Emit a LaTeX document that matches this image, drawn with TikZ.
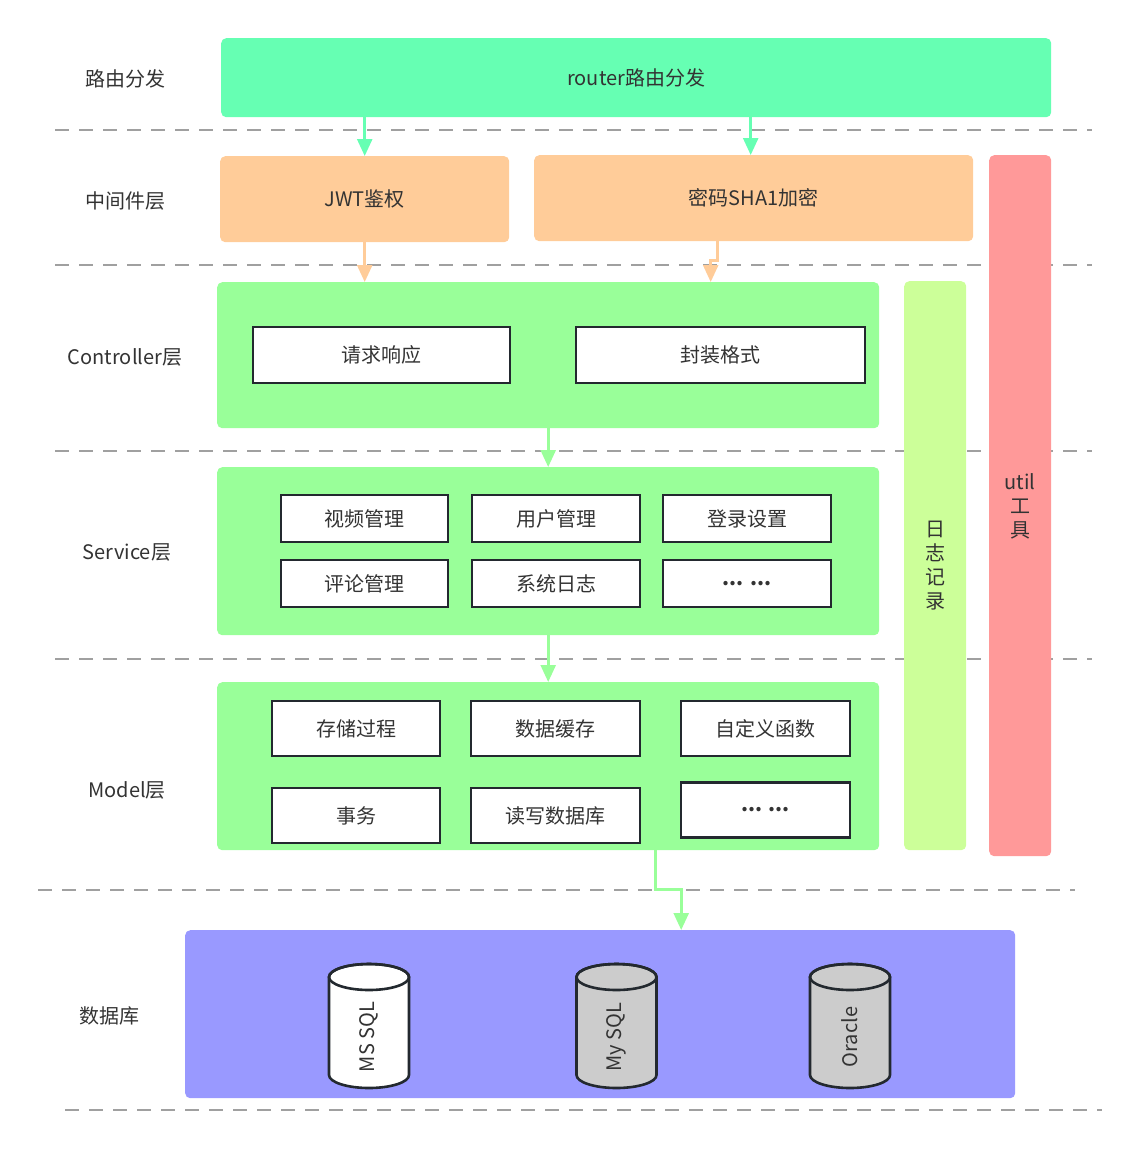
\documentclass[tikz,border=0pt]{standalone}
\usepackage{fontspec}
\setmainfont{Noto Sans CJK SC}
\usepackage{tikz}
\usetikzlibrary{arrows.meta}

\definecolor{routercol}{HTML}{66FFB3}
\definecolor{midcol}{HTML}{FFCC99}
\definecolor{ctrlcol}{HTML}{99FF99}
\definecolor{logcol}{HTML}{CCFF99}
\definecolor{utilcol}{HTML}{FF9999}
\definecolor{dbcol}{HTML}{9999FF}
\definecolor{cylgray}{HTML}{CCCCCC}
\definecolor{boxline}{HTML}{23292F}
\definecolor{dashcol}{HTML}{A0A0A0}
\definecolor{txtcol}{HTML}{333333}

\begin{document}
\begin{tikzpicture}[x=1pt,y=-1pt,
    every node/.style={text=txtcol,font=\fontsize{20}{24}\selectfont,inner sep=0pt},
    layer/.style={rounded corners=5pt,anchor=north west},
    item/.style={draw=boxline,line width=2.6pt,fill=white},
    sep/.style={dashcol,line width=1.6pt,dash pattern=on 14pt off 10pt},
    arr/.style={line width=2.6pt,-{Triangle[length=17pt,width=15pt]}}]
      \useasboundingbox (0,0) rectangle (1139,1164);
      % separators
      \draw[sep] (55,130)--(1092,130);
      \draw[sep] (55,265)--(1092,265);
      \draw[sep] (55,451)--(1092,451);
      \draw[sep] (55,659)--(1092,659);
      \draw[sep] (38,890)--(1075,890);
      \draw[sep] (65,1110)--(1102,1110);
      % layer names
      \node (lblroute) at (125,79) {路由分发};
      \node (lblmid) at (125,201) {中间件层};
      \node (lblctrl) at (125,357) {Controller层};
      \node (lblsvc) at (127,552) {Service层};
      \node (lblmodel) at (127,790) {Model层};
      \node (lbldb) at (109,1016) {数据库};
      % layers
      \node[layer,fill=routercol,minimum width=830,minimum height=79] (router) at (221,38) {router路由分发};
      \node[layer,fill=midcol,minimum width=289,minimum height=86] (jwt) at (220,156) {JWT鉴权};
      \node[layer,fill=midcol,minimum width=439,minimum height=86] (sha) at (534,155) {密码SHA1加密};
      \node[layer,fill=utilcol,minimum width=62,minimum height=701] (util) at (989,155) {};
      \node[align=center] (utiltxt) at (1020,506) {util\\工\\具};
      \node[layer,fill=logcol,minimum width=62,minimum height=569] (log) at (904,281) {};
      \node[align=center] (logtxt) at (935,566) {日\\志\\记\\录};
      \node[layer,fill=ctrlcol,minimum width=662,minimum height=146] (ctrl) at (217,282) {};
      \node[layer,fill=ctrlcol,minimum width=662,minimum height=168] (svc) at (217,467) {};
      \node[layer,fill=ctrlcol,minimum width=662,minimum height=168] (model) at (217,682) {};
      \node[layer,fill=dbcol,minimum width=830,minimum height=168] (db) at (185,930) {};
      % controller
      \node[item,minimum width=257,minimum height=56] (req) at (381.5,355) {请求响应};
      \node[item,minimum width=289,minimum height=56] (fmt) at (720.5,355) {封装格式};
      % service
      \node[item,minimum width=167,minimum height=47] (video) at (364.5,518.5) {视频管理};
      \node[item,minimum width=168,minimum height=47] (user) at (556,518.5) {用户管理};
      \node[item,minimum width=168,minimum height=47] (login) at (747,518.5) {登录设置};
      \node[item,minimum width=167,minimum height=47] (comment) at (364.5,583.5) {评论管理};
      \node[item,minimum width=168,minimum height=47] (syslog) at (556,583.5) {系统日志};
      \node[item,minimum width=168,minimum height=47] (svcmore) at (747,583.5) {\textbf{... ...}};
      % model
      \node[item,minimum width=168,minimum height=55] (proc) at (356,728.5) {存储过程};
      \node[item,minimum width=169,minimum height=55] (cache) at (555.5,728.5) {数据缓存};
      \node[item,minimum width=169,minimum height=55] (func) at (765.5,728.5) {自定义函数};
      \node[item,minimum width=168,minimum height=55] (trans) at (356,815.5) {事务};
      \node[item,minimum width=169,minimum height=55] (rw) at (555.5,815.5) {读写数据库};
      \node[item,minimum width=169,minimum height=55] (modelmore) at (765.5,810) {\textbf{... ...}};
      % databases
      \foreach \cx/\fc/\lbl [count=\i] in {369/white/MS SQL,616.5/cylgray/My SQL,850/cylgray/Oracle}{
        \draw[boxline,line width=2.6pt,fill=\fc] (\cx-40,977) -- (\cx-40,1075)
          arc[start angle=180,end angle=360,x radius=40pt,y radius=13pt] -- (\cx+40,977)
          arc[start angle=0,end angle=180,x radius=40pt,y radius=13pt] -- cycle;
        \draw[boxline,line width=2.6pt] (\cx,977) ellipse[x radius=40pt,y radius=13pt];
        \node[rotate=90] (cyl\i) at (\cx,1037) {\lbl};
      }
      % arrows
      \draw[arr,routercol] (jwt.north |- router.south) -- (jwt.north);
      \draw[arr,routercol] ([xshift=-3pt]sha.north |- router.south) -- ([xshift=-3pt]sha.north);
      \draw[arr,midcol] (jwt.south) -- (jwt.south |- ctrl.north);
      \draw[arr,midcol] ([xshift=-36pt]sha.south) -- ++(0,19) -| ([xshift=-43pt]sha.south |- ctrl.north);
      \draw[arr,ctrlcol] (ctrl.south) -- (svc.north);
      \draw[arr,ctrlcol] (svc.south) -- (model.north);
      \draw[arr,ctrlcol] ([xshift=107pt]model.south) -- ++(0,39) -| ([xshift=81pt]db.north);
    \end{tikzpicture}
\end{document}
